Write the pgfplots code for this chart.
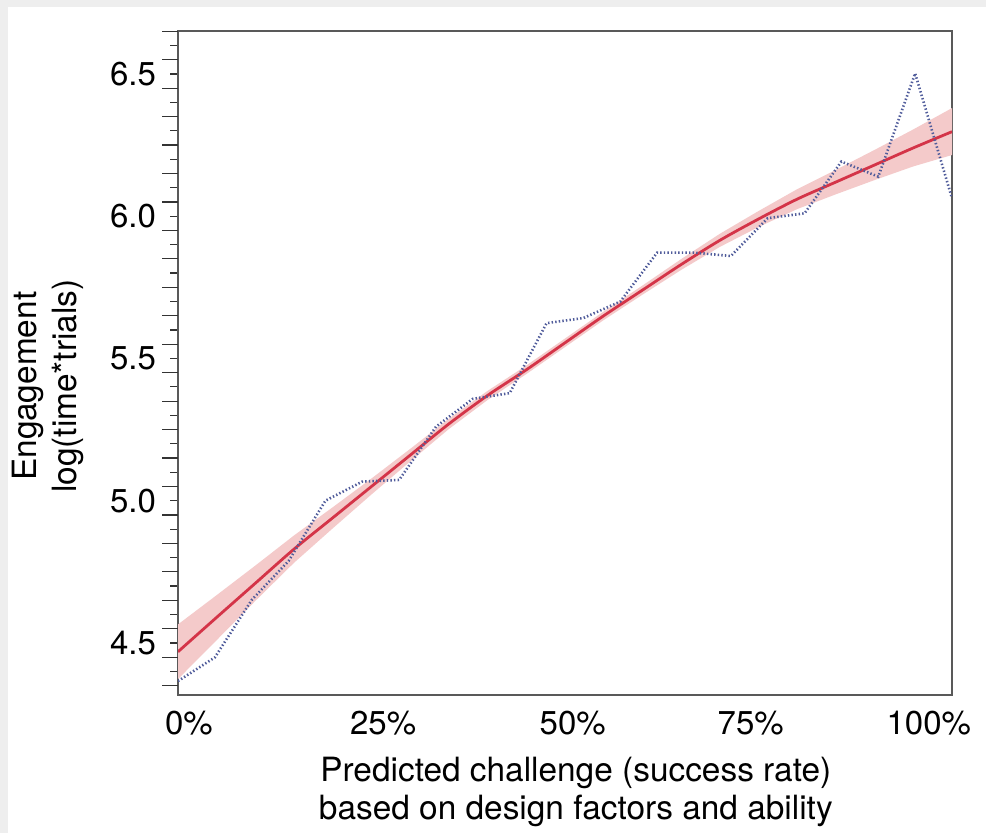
\documentclass[border=0pt]{standalone}
\usepackage{pgfplots}
\pgfplotsset{compat=1.18}
\usepackage{fontspec}
\setmainfont{TeX Gyre Heros}
\definecolor{fitred}{RGB}{212,52,72}
\definecolor{bandpink}{RGB}{244,202,202}
\definecolor{dotblue}{RGB}{80,92,155}
\definecolor{frame}{RGB}{238,238,238}
\begin{document}
\begin{tikzpicture}
\useasboundingbox (0,0) rectangle (493pt,416.5pt);
\fill[frame] (0,0) rectangle (493pt,416.5pt);
\fill[white] (4pt,0) rectangle (493pt,413pt);
\begin{axis}[
  at={(89pt,69pt)}, anchor=south west,
  width=387pt, height=332pt, scale only axis,
  xmin=0, xmax=100, ymin=4.317, ymax=6.651,
  font=\fontsize{16.5}{19}\selectfont,
  axis line style={draw=black!65, line width=0.8pt},
  every tick/.style={black!80, line width=0.6pt},
  tick align=outside,
  xtick={1.42,26.5,51,74,97},
  xticklabels={0\%,25\%,50\%,75\%,100\%},
  xtick style={draw=none},
  xticklabel style={yshift=-0.3pt},
  ytick pos=left,
  ytick={4.5,5.0,5.5,6.0,6.5},
  yticklabels={4.5,5.0,5.5,6.0,6.5},
  major tick length=4pt,
  minor ytick={4.4,4.6,4.7,4.8,4.9,5.1,5.2,5.3,5.4,5.6,5.7,5.8,5.9,6.1,6.2,6.3,6.4,6.6},
  minor tick length=4pt,
  extra y ticks={4.35,4.45,4.55,4.65,4.75,4.85,4.95,5.05,5.15,5.25,5.35,5.45,5.55,5.65,5.75,5.85,5.95,6.05,6.15,6.25,6.35,6.45,6.55,6.65},
  extra y tick labels={},
  extra y tick style={major tick length=8pt},
  yticklabel style={anchor=east, xshift=-3.5pt},
  xlabel={Predicted challenge (success rate)\\based on design factors and ability},
  xlabel style={at={(axis description cs:0.514,-0.146)}, anchor=center, align=center, font=\fontsize{16.7}{19.3}\selectfont},
  ylabel={Engagement\\log(time*trials)},
  ylabel style={at={(axis description cs:-0.168,0.465)}, anchor=center, align=center, font=\fontsize{16.7}{20}\selectfont},
]
% confidence band
\addplot[fill=bandpink, draw=none] coordinates {
(0,4.565) (5,4.668) (10,4.772) (15,4.878) (20,4.977) (25,5.078) (30,5.182) (35,5.288) (40,5.386) (45,5.475) (50,5.570) (55,5.665) (60,5.756) (65,5.849) (70,5.938) (75,6.018) (80,6.095) (85,6.163) (90,6.233) (95,6.305) (100,6.380)
(100,6.215) (95,6.175) (90,6.127) (85,6.077) (80,6.025) (75,5.962) (70,5.892) (65,5.811) (60,5.724) (55,5.635) (50,5.540) (45,5.445) (40,5.354) (35,5.252) (30,5.138) (25,5.022) (20,4.903) (15,4.782) (10,4.648) (5,4.510) (0,4.373)
};
% fitted curve
\addplot[fitred, line width=1.4pt, smooth] coordinates {
(0,4.469) (5,4.59) (10,4.71) (15,4.83) (20,4.94) (25,5.05) (30,5.16) (35,5.27) (40,5.37) (45,5.46) (50,5.555) (55,5.65) (60,5.74) (65,5.83) (70,5.915) (75,5.99) (80,6.06) (85,6.12) (90,6.18) (95,6.24) (100,6.297)
};
% observed means
\addplot[dotblue, line width=1.3pt, dash pattern=on 0.7pt off 1.1pt] coordinates {
(0,4.366) (4.762,4.449) (9.524,4.651) (14.286,4.788) (19.048,5.000) (23.810,5.067) (28.571,5.073) (33.333,5.260) (38.095,5.358) (42.857,5.378) (47.619,5.624) (52.381,5.642) (57.143,5.700) (61.905,5.872) (66.667,5.872) (71.429,5.860) (76.190,5.993) (80.952,6.010) (85.714,6.192) (90.476,6.139) (95.238,6.502) (100,6.063)
};
\end{axis}
\end{tikzpicture}
\end{document}
